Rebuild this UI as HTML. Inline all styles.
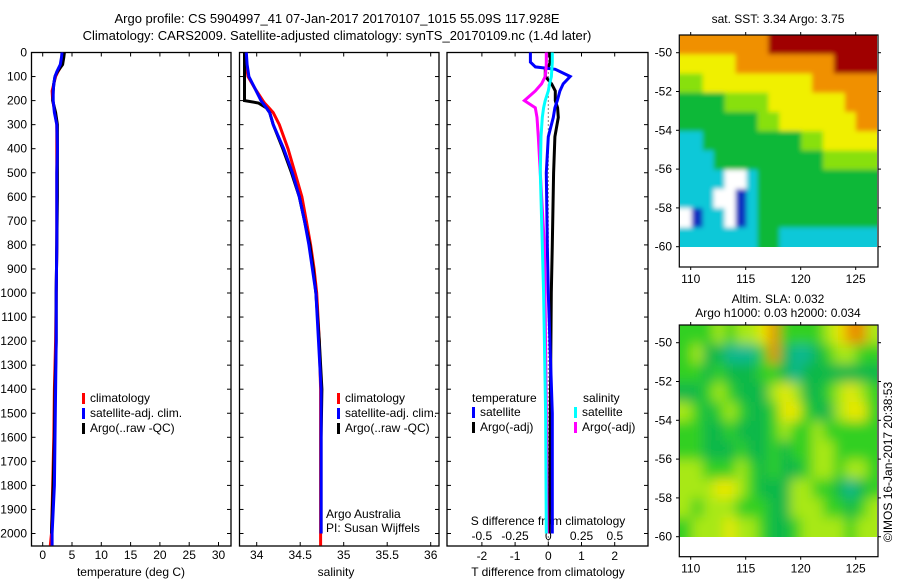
<!DOCTYPE html>
<html><head><meta charset="utf-8"><style>
html,body{margin:0;padding:0;background:#fff;}
svg{display:block;font-family:"Liberation Sans",sans-serif;}
text{font-size:12px;fill:#000;}
</style></head><body>
<svg id="fig" width="900" height="580" viewBox="0 0 900 580" xmlns="http://www.w3.org/2000/svg">
<defs>
<filter id="blur" x="0" y="0" width="1" height="1"><feGaussianBlur stdDeviation="6"/></filter>
<filter id="blur1" x="0" y="0" width="1" height="1"><feGaussianBlur stdDeviation="2.5"/></filter>
<clipPath id="clipM1"><rect x="680" y="35" width="197" height="212"/></clipPath>
<clipPath id="clipM2"><rect x="680" y="325" width="197" height="212"/></clipPath></defs>
<text x="337" y="23" text-anchor="middle" style="font-size:13px">Argo profile: CS 5904997_41 07-Jan-2017 20170107_1015 55.09S 117.928E</text>
<text x="337" y="40" text-anchor="middle" style="font-size:13px">Climatology: CARS2009. Satellite-adjusted climatology: synTS_20170109.nc (1.4d later)</text>
<g id="g"></g>
</svg>
<script>
// ---- profile data ----
const depths = [0,20,50,80,100,130,160,200,250,300,400,500,600,800,1000,1200,1400,1600,1800,2000,2050];
const climT = [3.6,3.5,3.3,2.6,2.2,1.9,1.6,1.7,2.1,2.4,2.4,2.4,2.4,2.4,2.3,2.2,2.0,1.9,1.7,1.5,1.3];
const satT  = [3.3,3.2,3.0,2.4,2.1,1.9,1.8,1.8,2.0,2.4,2.5,2.4,2.4,2.4,2.3,2.3,2.2,2.1,2.0,1.6,1.6];
const argoT = [3.7,3.6,3.4,2.5,2.1,1.9,1.8,1.7,2.2,2.5,2.5,2.5,2.5,2.4,2.3,2.3,2.1,2.0,1.8,1.5,null];
const salDepths = [0,50,100,150,200,210,230,250,300,400,500,600,700,800,900,1000,1200,1400,1600,1800,2000,2050];
const climS = [33.87,33.88,33.90,33.98,34.07,34.09,34.14,34.19,34.26,34.36,34.44,34.52,34.57,34.62,34.66,34.69,34.72,34.735,34.735,34.735,34.735,34.735];
const satS  = [33.88,33.89,33.91,33.98,34.05,34.07,34.11,34.15,34.19,34.31,34.41,34.49,34.55,34.60,34.64,34.68,34.71,34.74,34.74,34.74,34.74,null];
const argoS = [33.86,33.86,33.86,33.86,33.86,34.02,34.11,34.15,34.19,34.30,34.40,34.49,34.55,34.61,34.65,34.68,34.72,34.75,34.74,34.74,34.74,null];
const diffDepths = [0,40,60,70,100,130,160,200,230,270,350,500,800,1000,1500,2000];
const diffTsat  = [-0.54,-0.54,-0.39,0.21,0.66,0.45,0.35,0.27,0.2,0.15,0.0,-0.06,-0.03,0,0.12,0.12];
const diffTargo = [0.06,0.06,0.0,-0.09,-0.09,0.1,0.21,0.21,0.28,0.3,0.2,0.16,0.12,0.09,0.06,0.03];
const diffSsat  = [0.03,0.03,0.028,0.026,0.023,0.01,0,-0.023,-0.035,-0.045,-0.055,-0.06,-0.045,-0.035,-0.02,-0.015];
const diffSargo = [-0.015,-0.015,-0.016,-0.018,-0.023,-0.05,-0.098,-0.18,-0.098,-0.085,-0.075,-0.06,-0.03,-0.025,-0.015,-0.008];
const depthTicks = [0,100,200,300,400,500,600,700,800,900,1000,1100,1200,1300,1400,1500,1600,1700,1800,1900,2000];
const tempTicks = [0,5,10,15,20,25,30];
const salTicks = [34,34.5,35,35.5,36];
const dTTicks = [-2,-1,0,1,2];
const dSTicks = [-0.5,-0.25,0,0.25,0.5];
const dSLabels = ['-0.5','-0.25','0','0.25','0.5'];
// ---- map data ----
const mapLonTicks = [110,115,120,125];
const mapLatTicks = [-50,-52,-54,-56,-58,-60];
const sstGrid = [
[6,6,6,6,6,6,6,6,7,7,7,7,7,7,7,7,7,7],
[5,5,5,5,5,6,6,6,6,6,6,6,6,6,7,7,7,7],
[4,4,5,5,5,5,5,5,5,5,5,5,6,6,6,6,6,6],
[3,3,3,3,4,4,4,4,5,5,5,5,5,5,5,6,6,6],
[3,3,3,3,3,3,3,4,4,5,5,5,5,5,5,5,6,6],
[2,2,3,3,3,3,3,3,3,3,3,4,4,5,5,5,5,5],
[2,2,2,3,3,3,3,3,3,3,3,3,3,4,4,4,4,4],
[2,2,2,2,0,0,2,3,3,3,3,3,3,3,3,3,3,3],
[2,2,2,0,0,1,2,3,3,3,3,3,3,3,3,3,3,3],
[0,1,2,2,0,1,2,3,3,3,3,3,3,3,3,3,3,3],
[2,2,2,2,2,2,2,3,3,2,2,2,2,2,2,2,2,2]];
const slaGrid = [
[3,3,3,4,3,4,4,5,6,3,3,3,3,4,5,6,6,4],
[3,4,2,2,1,1,1,3,6,2,1,1,2,3,4,4,3,3],
[3,3,2,3,2,2,2,3,3,2,1,2,2,2,2,2,2,2],
[2,2,3,4,3,2,2,2,4,5,4,2,2,3,4,5,4,3],
[4,3,2,3,4,3,2,2,3,5,5,3,2,2,4,5,5,3],
[3,3,2,2,3,2,2,2,3,4,3,3,4,3,3,3,3,3],
[3,3,2,2,2,3,2,2,3,2,3,3,4,4,3,3,3,3],
[4,4,3,3,3,4,3,2,3,2,2,3,4,4,3,4,4,3],
[4,4,4,5,5,4,3,2,2,2,4,4,3,3,2,1,2,3],
[4,3,4,4,4,3,3,3,2,2,4,4,4,3,3,2,3,4],
[3,4,4,4,5,4,4,3,2,2,3,4,4,4,4,3,4,4]];
const sstColors = ['#ffffff','#1030c0','#10c8d8','#10b838','#88e010','#f0f000','#f09000','#a00000'];
const slaColors = ['#ffffff','#10b890','#10b848','#30d020','#a8e818','#e8e800','#e89000'];

const NS='http://www.w3.org/2000/svg';
const G=document.getElementById('g');
function el(tag,attrs,parent){const e=document.createElementNS(NS,tag);for(const k in attrs)e.setAttribute(k,attrs[k]);(parent||G).appendChild(e);return e;}
function txt(x,y,s,anchor,parent,size){const t=el('text',{x:x,y:y,'text-anchor':anchor||'start'},parent);if(size)t.style.fontSize=size+'px';t.textContent=s;return t;}

const yD = d => 52.5 + d*0.2405;
const xT = v => 42.7 + v*5.86;
const xS = v => 256.7 + (v-34)*87;
const xdT = v => 548.3 + v*33.2;
const xdS = v => 548.3 + v*133;

function panel(name,x0,x1,y0,y1){
  const g=el('g',{});
  
  
  el('rect',{x:x0,y:y0,width:x1-x0,height:y1-y0,fill:'none',stroke:'#000','stroke-width':1.3},g);
  return g;
}
function line(g,name,xs,ys,xf,color,w,dash){
  let pts=[];
  for(let i=0;i<xs.length;i++){ if(xs[i]===null) continue; pts.push(xf(xs[i]).toFixed(1)+','+yD(ys[i]).toFixed(1)); }
  const p=el('polyline',{points:pts.join(' '),fill:'none',stroke:color,'stroke-width':w},g);
  if(dash)p.setAttribute('stroke-dasharray',dash);
  
  
}
function depthAxis(g,x0,x1,labels){
  depthTicks.forEach(d=>{
    const y=yD(d);
    el('line',{x1:x0,y1:y,x2:x0+4,y2:y,stroke:'#000'},g);
    el('line',{x1:x1,y1:y,x2:x1-4,y2:y,stroke:'#000'},g);
    if(labels){const t=txt(27,y+4,String(d),'end',g);}
  });
}
function xAxis(g,ticks,labels,xf,y0,y1,ly,size){
  ticks.forEach((v,i)=>{
    const x=xf(v);
    el('line',{x1:x,y1:y1,x2:x,y2:y1-4,stroke:'#000'},g);
    el('line',{x1:x,y1:y0,x2:x,y2:y0+4,stroke:'#000'},g);
    if(ly!==null){const t=txt(x,ly,labels[i],'middle',g,size);}
  });
}
function legend(g,x,y,items){
  items.forEach((it,i)=>{
    const yy=y+i*15;
    if(it[1]) el('rect',{x:x,y:yy-9,width:3,height:11,fill:it[1]},g);
    const t=txt(x+(it[1]?8:0),yy,it[0],'start',g);
    
    
  });
}

// Panel 1 temperature
const p1=panel('temperature-panel',31.5,231,52.5,546);
depthAxis(p1,31.5,231,true);
xAxis(p1,tempTicks,tempTicks.map(String),xT,52.5,546,559);
txt(131,576,'temperature (deg C)','middle',p1);
line(p1,'clim-temp-line',climT,depths,xT,'#ff0000',3);
line(p1,'argo-temp-line',argoT,depths,xT,'#000000',3);
line(p1,'sat-temp-line',satT,depths,xT,'#0000ff',3);
legend(p1,82,402,[['climatology','#ff0000'],['satellite-adj. clim.','#0000ff'],['Argo(..raw -QC)','#000000']]);

// Panel 2 salinity
const p2=panel('salinity-panel',239.5,439,52.5,546);
depthAxis(p2,239.5,439,false);
xAxis(p2,salTicks,salTicks.map(String),xS,52.5,546,559);
txt(336,576,'salinity','middle',p2);
line(p2,'clim-sal-line',climS,salDepths,xS,'#ff0000',3);
line(p2,'argo-sal-line',argoS,salDepths,xS,'#000000',3);
line(p2,'sat-sal-line',satS,salDepths,xS,'#0000ff',3);
legend(p2,337,402,[['climatology','#ff0000'],['satellite-adj. clim.','#0000ff'],['Argo(..raw -QC)','#000000']]);
txt(326,518,'Argo Australia','start',p2);
txt(326,532,'PI: Susan Wijffels','start',p2);

// Panel 3 differences
const p3=panel('difference-panel',447,648,52.5,546);
depthAxis(p3,447,648,false);
xAxis(p3,dTTicks,dTTicks.map(String),xdT,52.5,546,560);
dSTicks.forEach((v,i)=>{const t=txt(xdS(v),540,dSLabels[i],'middle',p3);});
txt(548,525,'S difference from climatology','middle',p3);
txt(548,576,'T difference from climatology','middle',p3);
const zeroX=xdT(0);
const zl=el('line',{x1:zeroX,y1:52.5,x2:zeroX,y2:546,stroke:'#000','stroke-dasharray':'1,3'},p3);

line(p3,'argo-t-diff-line',diffTargo,diffDepths,xdT,'#000000',3);
line(p3,'sat-t-diff-line',diffTsat,diffDepths,xdT,'#0000ff',3);
line(p3,'argo-s-diff-line',diffSargo,diffDepths,xdS,'#ff00ff',3);
line(p3,'sat-s-diff-line',diffSsat,diffDepths,xdS,'#00ffff',3);
legend(p3,472,402,[['temperature',null]]);
legend(p3,472,416,[['satellite','#0000ff'],['Argo(-adj)','#000000']]);
legend(p3,583,402,[['salinity',null]]);
legend(p3,574,416,[['satellite','#00ffff'],['Argo(-adj)','#ff00ff']]);

// Maps
const lonX = lon => 690.7 + (lon-110)*11;
function mapPanel(name,grid,colors,top,latY,bottom,filt,clip){
  const g=el('g',{});
  
  
  const cg=el('g',{'clip-path':clip},g);
  const cells=el('g',{filter:filt},cg);
  const rows=grid.length, cols=grid[0].length;
  const x0=lonX(109.1), x1=lonX(127), y0=top, y1=latY(-60);
  const cw=(x1-x0)/cols, ch=(y1-y0)/rows;
  const pad=15;
  for(let r=0;r<rows;r++)for(let c=0;c<cols;c++){
    let rx=x0+c*cw, ry=y0+r*ch, rw=cw+0.6, rh=ch+0.6;
    if(c===0){rx-=pad;rw+=pad;}
    if(c===cols-1){rw+=pad;}
    if(r===0){ry-=pad;rh+=pad;}
    if(r===rows-1){rh+=pad;}
    const rc=el('rect',{x:rx.toFixed(1),y:ry.toFixed(1),width:rw.toFixed(1),height:rh.toFixed(1),fill:colors[grid[r][c]]},cells);
    
    
  }
  el('rect',{x:679.3,y:top,width:198.7,height:bottom-top,fill:'none',stroke:'#000','stroke-width':1.2},g);
  mapLonTicks.forEach(v=>{const x=lonX(v);el('line',{x1:x,y1:top,x2:x,y2:top-3,stroke:'#000'},g);el('line',{x1:x,y1:bottom,x2:x,y2:bottom+3,stroke:'#000'},g);
    const t=txt(x,bottom+16,String(v),'middle',g);});
  mapLatTicks.forEach(v=>{const y=latY(v);el('line',{x1:679.3,y1:y,x2:676,y2:y,stroke:'#000'},g);el('line',{x1:878,y1:y,x2:881,y2:y,stroke:'#000'},g);
    const t=txt(672,y+4,String(v),'end',g);});
  return g;
}
const m1=mapPanel('sst-map',sstGrid,sstColors,35,l=>52.7+(-50-l)*19.4,267,'url(#blur1)','url(#clipM1)');
txt(778,23,'sat. SST: 3.34  Argo: 3.75','middle',m1);
const m2=mapPanel('sla-map',slaGrid,slaColors,325,l=>342.7+(-50-l)*19.4,556.7,'url(#blur)','url(#clipM2)');
txt(778,303,'Altim. SLA: 0.032','middle',m2);
txt(778,317,'Argo h1000: 0.03 h2000: 0.034','middle',m2);
const st=txt(0,0,'©IMOS 16-Jan-2017 20:38:53','middle',G);
st.setAttribute('transform','translate(892,462) rotate(-90)');


</script>
</body></html>
